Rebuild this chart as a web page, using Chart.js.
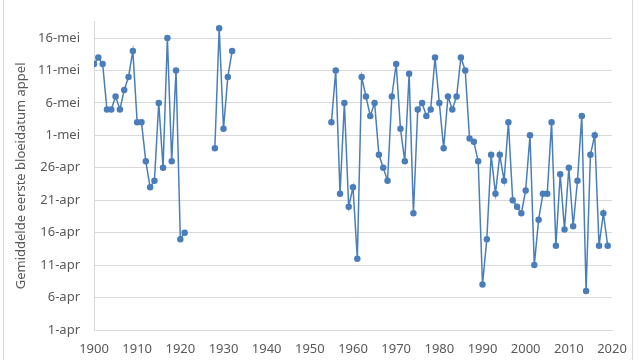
<!DOCTYPE html>
<html>
<head>
<meta charset="utf-8">
<script src="https://cdn.jsdelivr.net/npm/chart.js@4.4.1/dist/chart.umd.min.js"></script>
<style>
    html, body { margin: 0; padding: 0; background: #fff; overflow: hidden; }
    #wrap { position: relative; width: 640px; height: 360px; overflow: hidden; }
    #rand { position: absolute; left: 3px; top: -4px; width: 630px; height: 368px; border: 1px solid #d9d9d9; box-sizing: border-box; }
    canvas { position: absolute; left: 0; top: 0; }
</style>
</head>
<body>
<div id="wrap">
    <div id="rand"></div>
    <canvas id="bloeiChart" width="640" height="360"></canvas>
</div>
<script>
// jaren met een waarneming (null = onderbreking in de reeks)
var jaren = [
    1900, 1901, 1902, 1903, 1904, 1905, 1906, 1907, 1908, 1909,
    1910, 1911, 1912, 1913, 1914, 1915, 1916, 1917, 1918, 1919,
    1920, 1921, 1922,
    1928, 1929, 1930, 1931, 1932, 1933,
    1955, 1956, 1957, 1958, 1959,
    1960, 1961, 1962, 1963, 1964, 1965, 1966, 1967, 1968, 1969,
    1970, 1971, 1972, 1973, 1974, 1975, 1976, 1977, 1978, 1979,
    1980, 1981, 1982, 1983, 1984, 1985, 1986, 1987, 1988, 1989,
    1990, 1991, 1992, 1993, 1994, 1995, 1996, 1997, 1998, 1999,
    2000, 2001, 2002, 2003, 2004, 2005, 2006, 2007, 2008, 2009,
    2010, 2011, 2012, 2013, 2014, 2015, 2016, 2017, 2018, 2019
];
// dagen na 1 april
var bloeidag = [
    41, 42, 41, 34, 34, 36, 34, 37, 39, 43,
    32, 32, 26, 22, 23, 35, 25, 45, 26, 40,
    14, 15, null,
    28, 46.5, 31, 39, 43, null,
    32, 40, 21, 35, 19,
    22, 11, 39, 36, 33, 35, 27, 25, 23, 36,
    41, 31, 26, 39.5, 18, 34, 35, 33, 34, 42,
    35, 28, 36, 34, 36, 42, 40, 29.5, 29, 26,
    7, 14, 27, 21, 27, 23, 32, 20, 19, 18,
    21.5, 30, 10, 17, 21, 21, 32, 13, 24, 15.5,
    25, 16, 23, 33, 6, 27, 30, 13, 18, 13
];
var yLabels = ['1-apr', '6-apr', '11-apr', '16-apr', '21-apr', '26-apr', '1-mei', '6-mei', '11-mei', '16-mei'];

var punten = jaren.map(function(j, i) { return { x: j, y: bloeidag[i] }; });

var tekst = '#595959';
var raster = '#d9d9d9';
var font = { family: 'Noto Sans', size: 13 };

var ctx = document.getElementById('bloeiChart').getContext('2d');
var chart = new Chart(ctx, {
    type: 'line',
    data: {
        datasets: [{
            label: 'Bloeidatum',
            data: punten,
            borderColor: '#4a7ebb',
            backgroundColor: '#4a7ebb',
            borderWidth: 1.5,
            pointRadius: 2.5,
            pointHoverRadius: 3,
            spanGaps: false,
            tension: 0
        }]
    },
    options: {
        responsive: false,
        animation: false,
        layout: { padding: { left: 0, right: 28, top: 5, bottom: 0 } },
        plugins: {
            legend: { display: false },
            tooltip: { enabled: false }
        },
        scales: {
            x: {
                type: 'linear',
                min: 1900,
                max: 2020,
                ticks: { stepSize: 10, color: tekst, font: font, padding: 11, callback: function(v) { return String(v); } },
                grid: { display: false, drawTicks: false },
                border: { display: true, color: raster },
                afterFit: function(s) { s.height = 30; }
            },
            y: {
                min: 0,
                max: 47.5,
                ticks: {
                    stepSize: 5,
                    includeBounds: false,
                    color: tekst,
                    font: font,
                    padding: 14,
                    callback: function(v) { return yLabels[v / 5]; }
                },
                grid: { color: raster, drawTicks: false },
                border: { display: true, color: raster },
                title: {
                    display: true,
                    text: 'Gemiddelde eerste bloeidatum appel',
                    color: tekst,
                    font: font,
                    padding: { top: 13, bottom: 0 }
                },
                afterFit: function(s) { s.width = 94; }
            }
        }
    }
});
</script>
</body>
</html>
